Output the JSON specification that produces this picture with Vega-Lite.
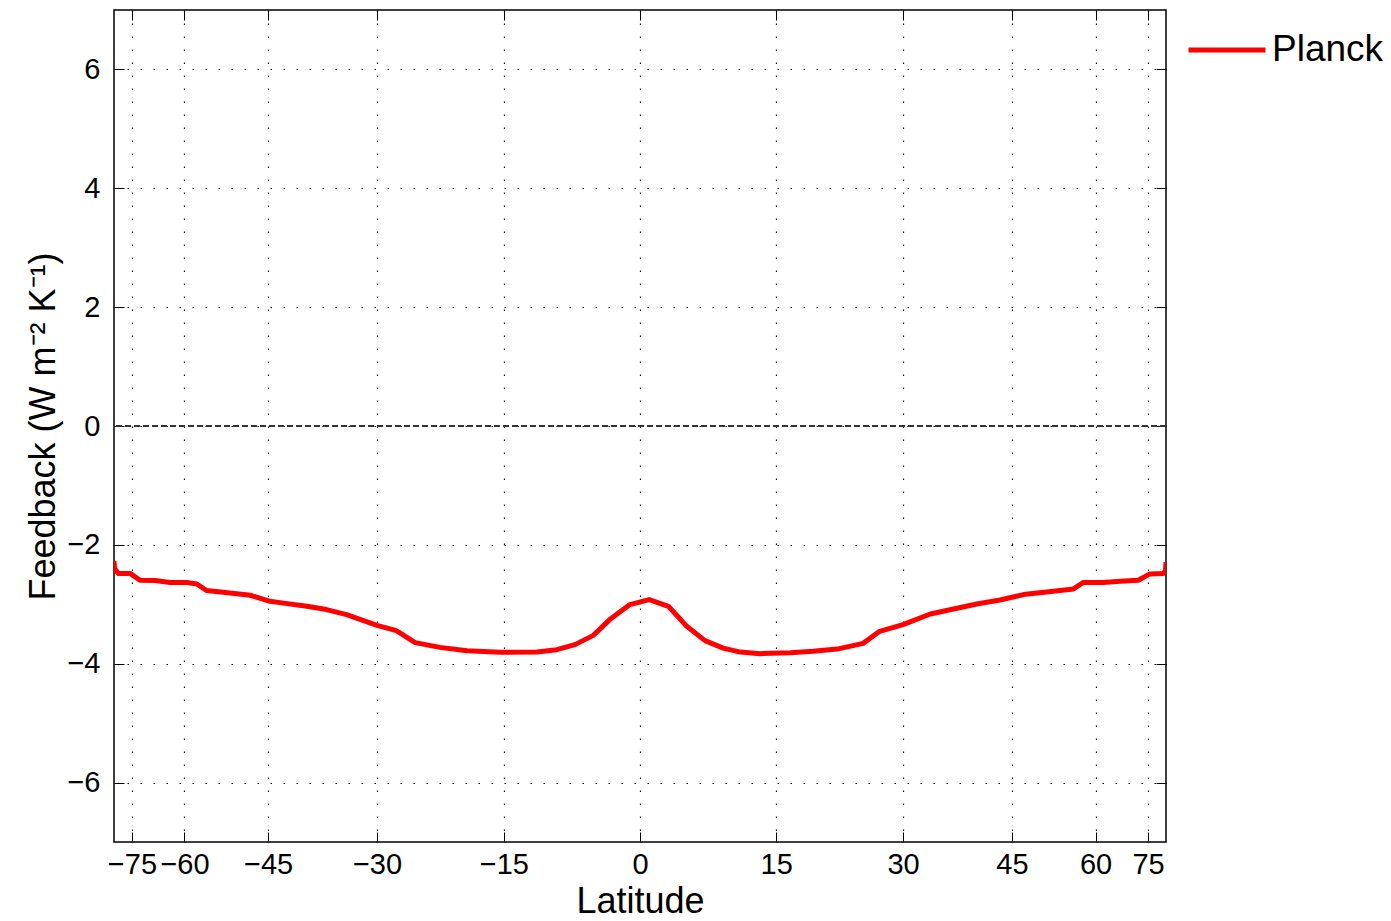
{
  "$schema": "https://vega.github.io/schema/vega-lite/v6.json",
  "width": 1052,
  "height": 832,
  "autosize": {"type": "none"},
  "padding": {"left": 114, "top": 10, "right": 225, "bottom": 79},
  "background": "white",
  "config": {
    "font": "Liberation Sans",
    "view": {"stroke": "black", "strokeWidth": 1.5},
    "axis": {
      "domain": false,
      "tickColor": "black",
      "tickWidth": 1,
      "labelColor": "black",
      "titleColor": "black",
      "titleFontWeight": "normal",
      "labelFont": "Liberation Sans",
      "titleFont": "Liberation Sans"
    }
  },
  "datasets": {
    "planck": [
      {"lat": -90, "value": -2.27},
      {"lat": -87.5, "value": -2.4},
      {"lat": -82.7, "value": -2.48},
      {"lat": -75.8, "value": -2.48},
      {"lat": -71.9, "value": -2.596},
      {"lat": -67.2, "value": -2.6},
      {"lat": -63.3, "value": -2.634},
      {"lat": -59.5, "value": -2.634},
      {"lat": -57.4, "value": -2.658},
      {"lat": -55.5, "value": -2.769},
      {"lat": -52.4, "value": -2.798},
      {"lat": -47.8, "value": -2.848},
      {"lat": -44.7, "value": -2.95},
      {"lat": -43.2, "value": -2.972},
      {"lat": -39.3, "value": -3.034},
      {"lat": -36.6, "value": -3.089},
      {"lat": -33.9, "value": -3.174},
      {"lat": -30.0, "value": -3.354},
      {"lat": -27.6, "value": -3.443},
      {"lat": -25.3, "value": -3.645},
      {"lat": -22.35, "value": -3.725},
      {"lat": -19.2, "value": -3.781},
      {"lat": -15.4, "value": -3.809},
      {"lat": -11.3, "value": -3.804},
      {"lat": -9.1, "value": -3.764},
      {"lat": -7.1, "value": -3.679},
      {"lat": -5.1, "value": -3.523},
      {"lat": -3.3, "value": -3.258},
      {"lat": -1.1, "value": -3.005},
      {"lat": 1.0, "value": -2.921},
      {"lat": 3.1, "value": -3.034},
      {"lat": 5.1, "value": -3.371},
      {"lat": 7.1, "value": -3.612},
      {"lat": 9.1, "value": -3.737},
      {"lat": 11.0, "value": -3.804},
      {"lat": 13.2, "value": -3.831},
      {"lat": 16.6, "value": -3.814},
      {"lat": 19.2, "value": -3.792},
      {"lat": 22.0, "value": -3.754},
      {"lat": 25.1, "value": -3.658},
      {"lat": 27.1, "value": -3.455},
      {"lat": 30.0, "value": -3.342},
      {"lat": 33.5, "value": -3.164},
      {"lat": 36.6, "value": -3.079},
      {"lat": 39.8, "value": -2.995},
      {"lat": 43.2, "value": -2.928},
      {"lat": 46.8, "value": -2.837},
      {"lat": 51.8, "value": -2.781},
      {"lat": 55.5, "value": -2.742},
      {"lat": 57.4, "value": -2.634},
      {"lat": 61.7, "value": -2.634},
      {"lat": 65.9, "value": -2.612},
      {"lat": 71.3, "value": -2.596},
      {"lat": 75.8, "value": -2.489},
      {"lat": 84.2, "value": -2.483},
      {"lat": 87.5, "value": -2.43},
      {"lat": 90, "value": -2.29}
    ],
    "zero": [{"v": 0}]
  },
  "resolve": {"axis": {"x": "independent", "y": "independent"}},
  "layer": [
    {
      "data": {"name": "planck"},
      "transform": [{"calculate": "sin(datum.lat * PI / 180)", "as": "s"}],
      "mark": {"type": "line", "strokeWidth": 5, "strokeJoin": "round", "clip": true},
      "encoding": {
        "x": {
          "field": "s",
          "type": "quantitative",
          "scale": {"domain": [-1, 1], "nice": false, "zero": false},
          "axis": {
            "orient": "bottom",
            "values": [-0.9659258262890683, -0.8660254037844386, -0.7071067811865476, -0.5, -0.25881904510252074, 0, 0.25881904510252074, 0.5, 0.7071067811865476, 0.8660254037844386, 0.9659258262890683],
            "labelExpr": "format(round(asin(datum.value) * 180 / PI), 'd')",
            "labelFontSize": 29,
            "labelPadding": 18,
            "labelFlush": false,
            "labelOverlap": false,
            "tickSize": -10,
            "grid": true,
            "gridColor": "black",
            "gridDash": [1.5, 11.5],
            "gridWidth": 1.2,
            "title": "Latitude",
            "titleFontSize": 36,
            "titlePadding": 5
          }
        },
        "y": {
          "field": "value",
          "type": "quantitative",
          "scale": {"domain": [-7, 7], "nice": false, "zero": false},
          "axis": {
            "orient": "left",
            "values": [-6, -4, -2, 0, 2, 4, 6],
            "labelFontSize": 29,
            "labelPadding": 24,
            "tickSize": -10,
            "grid": true,
            "gridColor": "black",
            "gridDash": [1.5, 11.5],
            "gridWidth": 1.2,
            "title": "Feedback (W m⁻² K⁻¹)",
            "titleFontSize": 36,
            "titlePadding": 4
          }
        },
        "color": {
          "datum": "Planck",
          "type": "nominal",
          "scale": {"range": ["#ff0000"]},
          "legend": {
            "title": null,
            "orient": "none",
            "legendX": 1072,
            "legendY": -1,
            "symbolType": "stroke",
            "symbolSize": 5929,
            "symbolStrokeWidth": 5,
            "labelFontSize": 37,
            "labelColor": "black",
            "labelOffset": 4,
            "padding": 0
          }
        }
      }
    },
    {
      "data": {"name": "zero"},
      "mark": {"type": "rule", "color": "#333333", "strokeDash": [6, 3], "strokeWidth": 2},
      "encoding": {
        "y": {
          "field": "v",
          "type": "quantitative",
          "axis": {
            "orient": "right",
            "values": [-6, -4, -2, 0, 2, 4, 6],
            "labels": false,
            "tickSize": -10,
            "grid": false,
            "title": null
          }
        }
      }
    },
    {
      "data": {"name": "planck"},
      "transform": [{"calculate": "sin(datum.lat * PI / 180)", "as": "s"}],
      "mark": {"type": "line", "opacity": 0},
      "encoding": {
        "x": {
          "field": "s",
          "type": "quantitative",
          "axis": {
            "orient": "top",
            "values": [-0.9659258262890683, -0.8660254037844386, -0.7071067811865476, -0.5, -0.25881904510252074, 0, 0.25881904510252074, 0.5, 0.7071067811865476, 0.8660254037844386, 0.9659258262890683],
            "labels": false,
            "tickSize": -10,
            "grid": false,
            "title": null
          }
        },
        "y": {"field": "value", "type": "quantitative", "axis": null}
      }
    }
  ]
}
